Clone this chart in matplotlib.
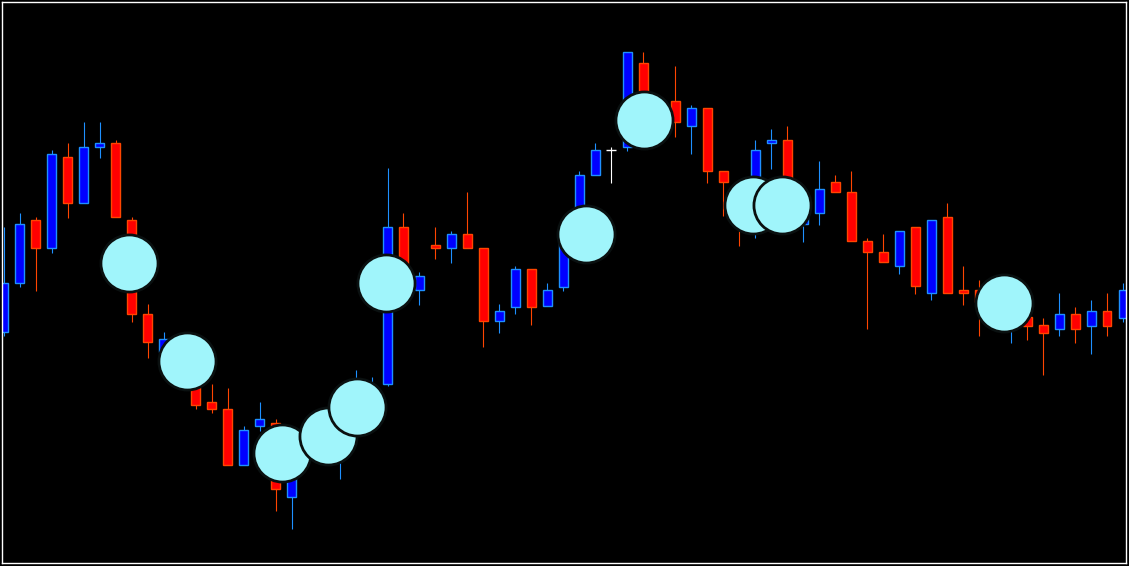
import matplotlib
matplotlib.use("Agg")
import matplotlib.pyplot as plt
import numpy as np

# candle data (price points), one entry per bar
opens = [234, 283, 346, 318, 409, 363, 419, 423, 346, 252,
         214, 214, 182, 164, 157, 101, 140, 143, 69, 116,
         121, 111, 136, 146, 182, 339, 276, 321, 318, 332,
         318, 245, 259, 297, 260, 279, 354, 391, 416, 419,
         503, 436, 465, 440, 458, 395, 380, 361, 423, 426,
         342, 353, 384, 374, 325, 314, 300, 339, 273, 349,
         276, 276, 244, 238, 249, 241, 237, 252, 240, 255,
         248]
highs = [339, 353, 349, 416, 423, 444, 444, 426, 349, 262,
         234, 219, 188, 182, 178, 140, 164, 147, 121, 128,
         148, 166, 196, 189, 398, 353, 294, 339, 335, 374,
         318, 262, 300, 297, 283, 338, 395, 423, 419, 514,
         514, 461, 500, 461, 458, 395, 384, 426, 437, 440,
         374, 405, 391, 395, 328, 332, 335, 339, 346, 363,
         300, 286, 268, 266, 256, 248, 273, 259, 266, 273,
         283]
lows = [230, 279, 275, 313, 348, 363, 408, 349, 244, 208,
        210, 180, 157, 153, 101, 101, 135, 55, 37, 111,
        108, 87, 126, 141, 180, 292, 261, 307, 303, 318,
        219, 233, 252, 241, 260, 275, 348, 391, 383, 415,
        460, 431, 429, 412, 383, 350, 320, 328, 397, 371,
        324, 341, 374, 325, 237, 304, 292, 272, 266, 273,
        261, 230, 238, 223, 226, 191, 230, 223, 212, 230,
        244]
closes = [283, 342, 318, 412, 363, 419, 423, 349, 252, 224,
          227, 184, 161, 157, 101, 136, 147, 77, 111, 124,
          141, 156, 171, 176, 339, 298, 290, 318, 332, 318,
          245, 255, 297, 259, 276, 331, 391, 416, 416, 514,
          466, 456, 444, 458, 395, 384, 356, 416, 426, 381,
          366, 377, 374, 325, 314, 304, 335, 280, 346, 273,
          273, 264, 261, 256, 240, 233, 252, 237, 255, 240,
          276]

# signal dots
dot_x = [7.84, 11.48, 17.40, 20.29, 22.11, 23.93, 36.43, 40.04, 46.86, 48.67, 62.54]
dot_y = [303, 205, 113, 130, 159, 283, 332, 446, 361, 361, 263]

o = np.array(opens)
h = np.array(highs)
l = np.array(lows)
c = np.array(closes)
x = np.arange(len(o))

up = c > o
dn = c < o
dj = c == o

fig = plt.figure(figsize=(11.29, 5.66), dpi=100, facecolor="black")
ax = fig.add_axes([0.0022, 0.0058, 0.9949, 0.9898])
ax.set_facecolor("black")

# wicks
ax.vlines(x[up], l[up], h[up], color="#1E90FF", lw=0.8, zorder=1)
ax.vlines(x[dn], l[dn], h[dn], color="#FF4500", lw=0.8, zorder=1)
ax.vlines(x[dj], l[dj], h[dj], color="white", lw=0.8, zorder=1)

# bodies
w = 0.56
ax.bar(x[up], (c - o)[up], bottom=o[up], width=w, color="#0000FF",
       edgecolor="#1E90FF", linewidth=1.0, zorder=2)
ax.bar(x[dn], (o - c)[dn], bottom=c[dn], width=w, color="#FF0000",
       edgecolor="#FF4500", linewidth=1.0, zorder=2)
ax.hlines(o[dj], x[dj] - 0.31, x[dj] + 0.31, color="white", lw=1.0, zorder=2)

# dots, later ones on top
for i in range(len(dot_x)):
    ax.scatter(dot_x[i], dot_y[i], s=1690, color="#A0F5FB",
               edgecolors="#0a1010", linewidths=2.0, zorder=3 + i * 0.01)

ax.set_xlim(-0.08, 70.17)
ax.set_ylim(3.3, 563.5)
ax.set_xticks([])
ax.set_yticks([])
for s in ax.spines.values():
    s.set_color("white")
    s.set_linewidth(1.0)

fig.savefig("out.png", dpi=100, facecolor="black")
